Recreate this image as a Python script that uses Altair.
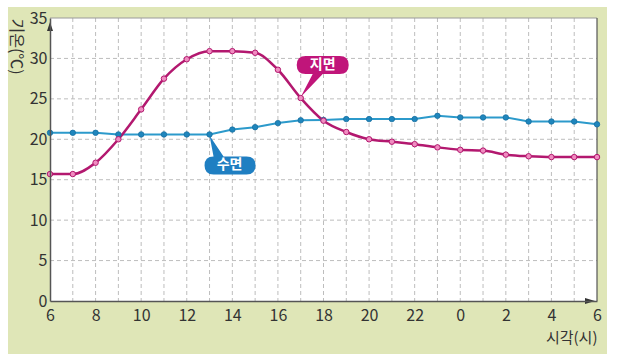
import altair as alt
import pandas as pd

# ---- data ----
hours = [6, 7, 8, 9, 10, 11, 12, 13, 14, 15, 16, 17, 18, 19, 20, 21, 22, 23, 24, 25, 26, 27, 28, 29, 30]
land = [15.7, 15.7, 17.1, 20.0, 23.7, 27.5, 29.9, 30.9, 30.9, 30.7, 28.6, 25.1, 22.3,
        20.9, 20.0, 19.7, 19.4, 19.0, 18.7, 18.6, 18.1, 17.9, 17.8, 17.8, 17.8]
water = [20.8, 20.8, 20.8, 20.6, 20.6, 20.6, 20.6, 20.6, 21.2, 21.5, 22.0, 22.35, 22.4,
         22.5, 22.5, 22.5, 22.5, 22.9, 22.7, 22.7, 22.7, 22.2, 22.2, 22.2, 21.85]
x_ticks = [6, 8, 10, 12, 14, 16, 18, 20, 22, 24, 26, 28, 30]
y_ticks = [0, 5, 10, 15, 20, 25, 30, 35]
x_grid = [7, 8, 9, 10, 11, 12, 13, 14, 15, 16, 17, 18, 19, 20, 21, 22, 23, 24, 25, 26, 27, 28, 29]
y_grid = [5, 10, 15, 20, 25, 30]
land_name = "지면"
water_name = "수면"
land_callout_hour = 17
water_callout_hour = 13

W, H = 547, 283
MAGENTA = "#b3186f"
BLUE = "#2c9acb"
GREEN = "#dfe6b7"
FONT = "Noto Sans CJK KR"

land_df = pd.DataFrame({"hour": hours, "temp": land})
water_df = pd.DataFrame({"hour": hours, "temp": water})
xg_df = pd.DataFrame({"hour": x_grid})
yg_df = pd.DataFrame({"temp": y_grid})
dummy = alt.Data(values=[{"a": 1}])

xs = alt.Scale(domain=[6, 30], nice=False)
ys = alt.Scale(domain=[0, 35], nice=False)

xa = alt.Axis(
    values=x_ticks, labelExpr="datum.value % 24", ticks=False, grid=False,
    domainColor="#555555", domainWidth=1.5, labelFontSize=16, labelColor="#333333",
    labelFont=FONT, labelPadding=6, labelFlush=False, zindex=1,
    title="시각(시)", titleFont=FONT, titleFontSize=15, titleFontWeight="normal",
    titleColor="#333333", titleX=W, titleY=36, titleAlign="right",
    titleBaseline="middle")
ya = alt.Axis(
    values=y_ticks, ticks=False, grid=False, domainColor="#555555", domainWidth=1.5,
    labelFontSize=16, labelColor="#333333", labelFont=FONT, labelPadding=3, zindex=1,
    title="기온(℃)", titleFont=FONT, titleFontSize=16, titleFontWeight="normal",
    titleColor="#333333", titleAngle=90, titleX=-35, titleY=0, titleAlign="left",
    titleBaseline="middle")


def X():
    return alt.X("hour:Q", scale=xs, axis=xa)


def Y():
    return alt.Y("temp:Q", scale=ys, axis=ya)


bg = alt.Chart(dummy).mark_rect(color=GREEN).encode(
    x=alt.value(-42), x2=alt.value(557), y=alt.value(-11), y2=alt.value(342))
plotbg = alt.Chart(dummy).mark_rect(color="white").encode(
    x=alt.value(0), x2=alt.value(W), y=alt.value(0), y2=alt.value(H))

vgrid = alt.Chart(xg_df).mark_rule(color="#bdbdbd", strokeDash=[4, 3], strokeWidth=1).encode(
    x=X(), y=alt.value(0), y2=alt.value(H))
hgrid = alt.Chart(yg_df).mark_rule(color="#bdbdbd", strokeDash=[4, 3], strokeWidth=1).encode(
    y=Y(), x=alt.value(0), x2=alt.value(W))
border = alt.Chart(dummy).mark_rule(color="#9a9a9a", strokeWidth=1).encode(
    x=alt.value(0), x2=alt.value(W), y=alt.value(0))
border_r = alt.Chart(dummy).mark_rule(color="#555555", strokeWidth=1.2).encode(
    x=alt.value(W), y=alt.value(0), y2=alt.value(H))

water_line = alt.Chart(water_df).mark_line(color=BLUE, strokeWidth=2).encode(x=X(), y=Y())
land_line = alt.Chart(land_df).mark_line(color=MAGENTA, strokeWidth=2.5, interpolate="monotone").encode(
    x=X(), y=Y())

# callouts anchored on data points
land_c = pd.DataFrame({"hour": [land_callout_hour], "temp": [land[hours.index(land_callout_hour)]], "label": [land_name]})
water_c = pd.DataFrame({"hour": [water_callout_hour], "temp": [water[hours.index(water_callout_hour)]], "label": [water_name]})

land_shape = ("M5,-42 L39,-42 Q48,-42 48,-33 Q48,-24 39,-24 L22,-24 L0,-1 L12,-24 "
              "L5,-24 Q-4,-24 -4,-33 Q-4,-42 5,-42 Z")
water_shape = ("M4,22 L0,1 L14,22 L37,22 Q46,22 46,31 Q46,40 37,40 L4,40 "
               "Q-5,40 -5,31 Q-5,22 4,22 Z")

land_box = alt.Chart(land_c).mark_point(shape=land_shape, size=4, filled=True, opacity=1,
                                        color="#c0157a", strokeWidth=0).encode(x=X(), y=Y())
water_box = alt.Chart(water_c).mark_point(shape=water_shape, size=4, filled=True, opacity=1,
                                          color="#1f7fc2", strokeWidth=0).encode(x=X(), y=Y())
land_txt = alt.Chart(land_c).mark_text(color="white", font=FONT, fontSize=14, fontWeight="bold",
                                       dx=22, dy=-33).encode(x=X(), y=Y(), text="label:N")
water_txt = alt.Chart(water_c).mark_text(color="white", font=FONT, fontSize=14, fontWeight="bold",
                                         dx=20, dy=31).encode(x=X(), y=Y(), text="label:N")

water_pts = alt.Chart(water_df).mark_point(filled=True, size=30, color="#1f86bd", opacity=1,
                                           stroke="#176e9f", strokeWidth=0.8).encode(x=X(), y=Y())
land_pts = alt.Chart(land_df).mark_point(filled=True, size=30, fill="#f08cc0", opacity=1,
                                         stroke=MAGENTA, strokeWidth=1).encode(x=X(), y=Y())

# axis arrows
arrow_y = alt.Chart(dummy).mark_point(shape="M0,-5 L3,4 L-3,4 Z", size=4, filled=True,
                                      color="#333333", opacity=1, strokeWidth=0).encode(
    x=alt.value(0), y=alt.value(9))
arrow_x = alt.Chart(dummy).mark_point(shape="M5,0 L-5,-3 L-5,3 Z", size=4, filled=True,
                                      color="#333333", opacity=1, strokeWidth=0).encode(
    x=alt.value(W - 7), y=alt.value(H))

chart = alt.layer(
    bg, plotbg, vgrid, hgrid, border, border_r,
    water_line, land_line, water_box, land_box, water_pts, land_pts,
    water_txt, land_txt, arrow_y, arrow_x,
).properties(
    width=W, height=H,
    autosize=alt.AutoSizeParams(type="none"),
    padding={"left": 50, "top": 18, "right": 23, "bottom": 53},
).configure(background="white").configure_view(stroke=None)

chart.save("out.html", embed_options={"renderer": "svg", "actions": False})
